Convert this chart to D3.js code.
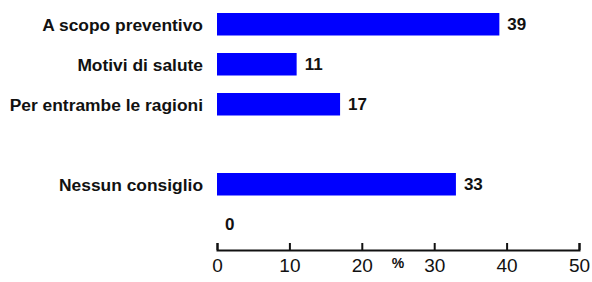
<!DOCTYPE html>
<html>
<head>
<meta charset="utf-8">
<script src="https://cdn.jsdelivr.net/npm/d3@7"></script>
<style>
  body { margin: 0; background: #fff; }
  svg { font-family: "Liberation Sans", Arial, sans-serif; }
  .catLabel { font-size: 17.4px; font-weight: bold; fill: #111; }
  .valLabel { font-size: 17px; font-weight: bold; fill: #111; }
  .xAxis text { font-size: 19px; fill: #111; }
  .xAxis path, .xAxis line { stroke: #111; stroke-width: 2; }
</style>
</head>
<body>
<div id="chart"></div>
<script>
// chart data
var categories = ["A scopo preventivo", "Motivi di salute", "Per entrambe le ragioni", "", "Nessun consiglio", ""];
var values = [39, 11, 17, null, 33, 0];
var xTicks = [0, 10, 20, 30, 40, 50];
var axisTitle = "%";

var width = 592;
var height = 282;
var left = 217;
var right = 579;
var axisY = 250;

var svg = d3.select("#chart")
    .append("svg")
    .attr("width", width)
    .attr("height", height);

var xScale = d3.scaleLinear()
    .domain([0, 50])
    .range([left, right]);

var yScale = d3.scaleBand()
    .domain(d3.range(categories.length))
    .range([4.25, 244.25])
    .paddingInner(0.4375)
    .paddingOuter(0.21875);

var shown = d3.range(values.length).filter(function(i) { return values[i] !== null; });

// bars
svg.selectAll("rect.bar")
    .data(shown)
    .enter()
    .append("rect")
    .attr("class", "bar")
    .attr("x", xScale(0))
    .attr("y", function(i) { return yScale(i); })
    .attr("width", function(i) { return xScale(values[i]) - xScale(0); })
    .attr("height", yScale.bandwidth())
    .attr("fill", "#0000ff");

// value labels at the end of each bar
svg.selectAll("text.valLabel")
    .data(shown)
    .enter()
    .append("text")
    .attr("class", "valLabel")
    .attr("x", function(i) { return xScale(values[i]) + 8; })
    .attr("y", function(i) { return yScale(i) + yScale.bandwidth() / 2; })
    .attr("dy", "0.36em")
    .text(function(i) { return values[i]; });

// category labels
svg.selectAll("text.catLabel")
    .data(d3.range(categories.length))
    .enter()
    .append("text")
    .attr("class", "catLabel")
    .attr("x", 203)
    .attr("y", function(i) { return yScale(i) + yScale.bandwidth() / 2; })
    .attr("dy", "0.36em")
    .attr("text-anchor", "end")
    .text(function(i) { return categories[i]; });

// x axis, ticks pointing up
var xAxis = d3.axisBottom(xScale)
    .tickValues(xTicks)
    .tickSizeInner(-7)
    .tickSizeOuter(-7)
    .tickPadding(9);

svg.append("g")
    .attr("class", "xAxis")
    .attr("transform", "translate(0," + axisY + ")")
    .call(xAxis);

svg.append("text")
    .attr("x", (xScale(20) + xScale(30)) / 2)
    .attr("y", 268)
    .attr("text-anchor", "middle")
    .attr("font-size", 14)
    .attr("font-weight", "bold")
    .attr("fill", "#111")
    .text(axisTitle);
</script>
</body>
</html>
